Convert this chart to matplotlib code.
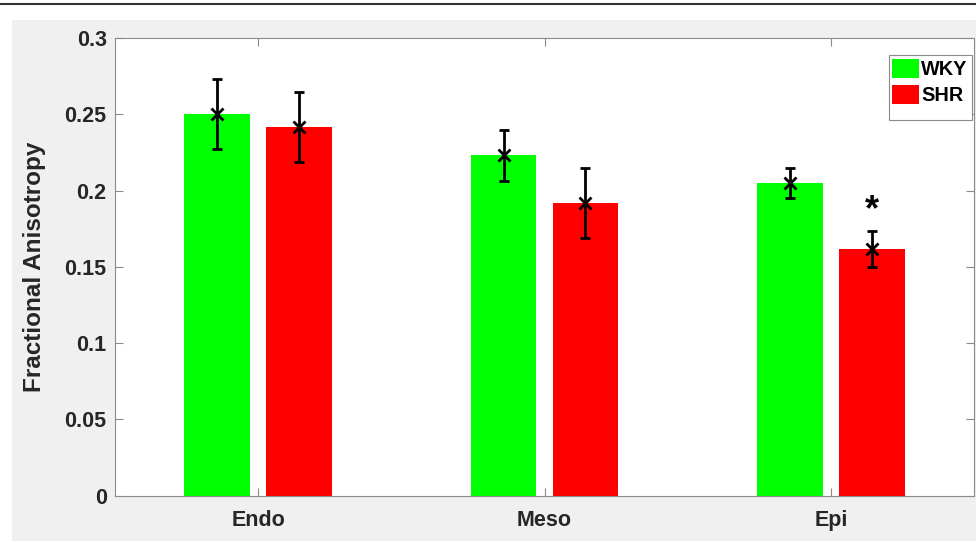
import matplotlib
matplotlib.use('Agg')
import matplotlib.pyplot as plt
import numpy as np
from matplotlib.patches import Rectangle
from matplotlib.lines import Line2D

# Data
regions = ['Endo', 'Meso', 'Epi']
wky_mean = [0.250, 0.223, 0.205]
wky_err = [0.023, 0.0165, 0.0098]
shr_mean = [0.2415, 0.192, 0.162]
shr_err = [0.023, 0.0228, 0.0118]
groups = ['WKY', 'SHR']
star_region = 'Epi'
star_y = 0.187

plt.rcParams['font.family'] = ['Liberation Sans', 'DejaVu Sans']
tick_color = '#262626'
spine_color = '#8a8a8a'

fig = plt.figure(figsize=(9.76, 5.42), dpi=100)
fig.patch.set_facecolor('white')

# grey panel behind the axes (MATLAB-like figure background)
W, H = 976.0, 542.0
fig.patches.append(Rectangle((12 / W, 1 / H), 1 - 12 / W, (H - 20 - 1) / H,
                             transform=fig.transFigure, facecolor='#f0f0f0',
                             edgecolor='none', zorder=-10))
fig.lines.append(Line2D([0, 1], [1 - 4 / H, 1 - 4 / H], transform=fig.transFigure,
                        color='#333333', linewidth=1.5, zorder=-10))

ax = fig.add_axes([115 / W, 1 - 495.7 / H, (974 - 115) / W, (495.7 - 38) / H])
ax.set_facecolor('white')

x = np.arange(1, len(regions) + 1)
off = 0.143
width = 0.23

ax.bar(x - off, wky_mean, width, color='#00ff00', label=groups[0], zorder=2)
ax.bar(x + off, shr_mean, width, color='#ff0000', label=groups[1], zorder=2)

for xs, m, e in [(x - off, wky_mean, wky_err), (x + off, shr_mean, shr_err)]:
    ax.errorbar(xs, m, yerr=e, fmt='x', color='black', ecolor='black',
                elinewidth=2, capsize=3.5, capthick=2, markersize=8,
                markeredgewidth=2, zorder=3)

si = regions.index(star_region)
ax.text(x[si] + off, star_y, '*', ha='center', va='center', fontsize=26,
        fontweight='bold', color='black', zorder=4)

ax.set_xlim(0.5, 3.5)
ax.set_ylim(0, 0.3)
ax.set_xticks(x)
ax.set_xticklabels(regions)
ax.set_yticks(np.arange(0, 0.301, 0.05))
ax.set_yticklabels(['0', '0.05', '0.1', '0.15', '0.2', '0.25', '0.3'])

ax.tick_params(direction='in', length=6, width=0.8, color=spine_color,
               top=True, right=True, labelsize=15.5, labelcolor=tick_color)
ax.tick_params(axis='x', pad=10)
ax.tick_params(axis='y', pad=6)
for lab in ax.get_xticklabels() + ax.get_yticklabels():
    lab.set_fontweight('bold')
for s in ax.spines.values():
    s.set_color(spine_color)
    s.set_linewidth(0.8)

ax.set_ylabel('Fractional Anisotropy', fontsize=17.5, fontweight='bold',
              color=tick_color, labelpad=13)

# legend box drawn separately (MATLAB leaves extra room under the entries)
ax.add_patch(Rectangle((0.9007, 0.8208), 0.9973 - 0.9007, 0.9629 - 0.8208,
                       transform=ax.transAxes, facecolor='white',
                       edgecolor=spine_color, linewidth=0.8, zorder=5))
leg = ax.legend(loc='upper right', bbox_to_anchor=(0.9973, 0.9629),
                prop={'weight': 'bold', 'size': 14.3}, frameon=False,
                handlelength=1.38, handleheight=1.06, handletextpad=0.12,
                borderpad=0.2, labelspacing=0.3, borderaxespad=0)
leg.set_zorder(6)

plt.savefig('out.png', dpi=100, facecolor='white')
